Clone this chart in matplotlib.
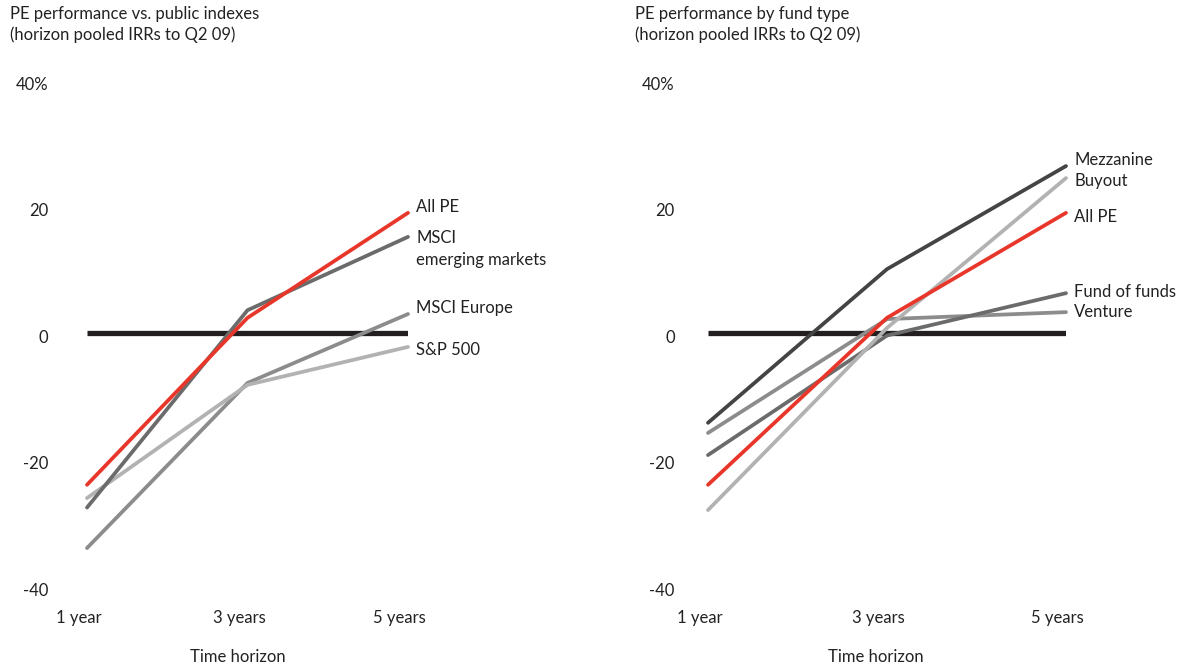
import matplotlib
matplotlib.use("Agg")
import matplotlib.pyplot as plt
from matplotlib.transforms import ScaledTranslation

plt.rcParams['font.family'] = ['Lato', 'DejaVu Sans']

horizons = [1, 3, 5]
horizon_labels = ['1 year', '3 years', '5 years']
y_ticks = [-40, -20, 0, 20, 40]
y_tick_labels = ['-40', '-20', '0', '20', '40%']

# left panel: PE vs public indexes
left_names = ['MSCI Europe', 'S&P 500', 'MSCI\nemerging markets', 'All PE']
left_values = [
    [-34.0, -7.9, 3.0],
    [-26.1, -8.2, -2.2],
    [-27.6, 3.6, 15.2],
    [-24.0, 2.4, 19.0],
]
left_colors = ['#8c8c8c', '#b2b2b2', '#6b6b6b', '#e8372a']
left_label_dy = [4, -2, 5, 4]   # points, label nudges

# right panel: by fund type
right_names = ['Venture', 'Fund of funds', 'Mezzanine', 'Buyout', 'All PE']
right_values = [
    [-15.8, 2.2, 3.3],
    [-19.3, -0.4, 6.3],
    [-14.2, 10.1, 26.4],
    [-28.0, 0.8, 24.5],
    [-24.0, 2.4, 19.0],
]
right_colors = ['#8c8c8c', '#6b6b6b', '#444444', '#b2b2b2', '#e8372a']
right_label_dy = [0, 1, 4, -2, -3]

titles = ['PE performance vs. public indexes\n(horizon pooled IRRs to Q2 09)',
          'PE performance by fund type\n(horizon pooled IRRs to Q2 09)']

W, H = 1190, 666
fig = plt.figure(figsize=(W / 100, H / 100), dpi=100)

def panel(x0, x1, ypad, names, values, colors, dys, title, title_x):
    ax = fig.add_axes([x0 / W, 1 - 586 / H, (x1 - x0) / W, 506 / H])
    ax.set_xlim(1, 5)
    ax.set_ylim(-40, 40)
    for s in ax.spines.values():
        s.set_visible(False)
    ax.axhline(0, color='#231f20', lw=3.8, solid_capstyle='butt', zorder=1)
    for name, vals, c, dy in zip(names, values, colors, dys):
        ax.plot(horizons, vals, color=c, lw=2.7, solid_capstyle='round',
                solid_joinstyle='miter', clip_on=False, zorder=2)
        va = 'top' if '\n' in name else 'center'
        ax.annotate(name, xy=(horizons[-1], vals[-1]), xytext=(6, dy),
                    textcoords='offset points', va=va, ha='left',
                    fontsize=12, color='#222222', linespacing=1.5)
    ax.set_xticks(horizons)
    ax.set_xticklabels(horizon_labels, fontsize=12, color='#222222')
    ax.set_yticks(y_ticks)
    ax.set_yticklabels(y_tick_labels, fontsize=12, color='#222222')
    ax.tick_params(axis='x', length=0, pad=17)
    ax.tick_params(axis='y', length=0, pad=ypad)
    off = ScaledTranslation(-6 / 72, 0, fig.dpi_scale_trans)
    for lab in ax.get_xticklabels():
        lab.set_transform(lab.get_transform() + off)
    down = ScaledTranslation(0, -2.2 / 72, fig.dpi_scale_trans)
    for lab in ax.get_yticklabels():
        lab.set_transform(lab.get_transform() + down)
    ax.set_xlabel('Time horizon', fontsize=12, color='#222222')
    ax.xaxis.set_label_coords(0.47, -0.125)
    fig.text(title_x / W, 1 - 6 / H, title, ha='left', va='top',
             fontsize=12, color='#222222', linespacing=1.3)
    return ax

panel(87, 408, 28, left_names, left_values, left_colors, left_label_dy, titles[0], 10)
panel(708, 1066, 24, right_names, right_values, right_colors, right_label_dy, titles[1], 635)

fig.savefig('out.png', dpi=100)
